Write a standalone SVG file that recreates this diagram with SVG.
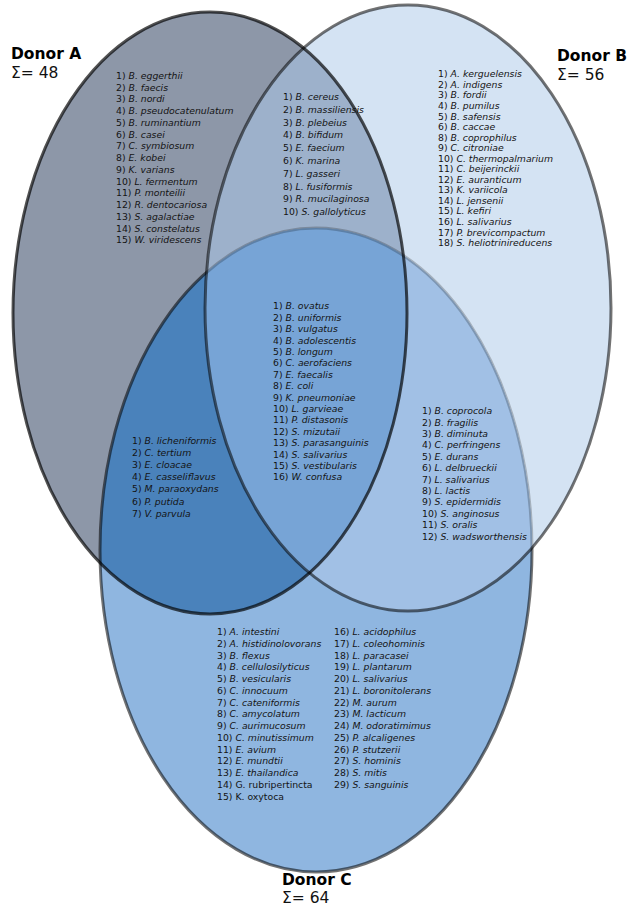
<svg xmlns="http://www.w3.org/2000/svg" xmlns:xlink="http://www.w3.org/1999/xlink" width="627" height="907" viewBox="0 0 627 907">
<style>
text{font-family:"DejaVu Sans","Liberation Sans",sans-serif;fill:#141414}
.l{font-size:9.3px}
.i{font-style:italic}
.t{font-size:15.5px;font-weight:bold;fill:#000}
.s{font-size:15.5px;fill:#111}
.o{fill:none;stroke:#000;stroke-width:3}
</style>
<defs>
<ellipse id="eA" cx="210" cy="313" rx="197" ry="301"/>
<ellipse id="eB" cx="408" cy="308" rx="203" ry="303"/>
<ellipse id="eC" cx="316" cy="550" rx="216" ry="322"/>
<clipPath id="cA"><use xlink:href="#eA"/></clipPath>
<clipPath id="cB"><use xlink:href="#eB"/></clipPath>
<clipPath id="nB"><path clip-rule="evenodd" d="M0,0H627V907H0Z M205,308a203,303 0 1,0 406,0a203,303 0 1,0 -406,0Z"/></clipPath>
</defs>
<rect width="627" height="907" fill="#fff"/>
<g id="fills">
<use xlink:href="#eA" fill="#8d97a8"/>
<use xlink:href="#eB" fill="#d4e3f3"/>
<use xlink:href="#eC" fill="#8fb6e0"/>
<g clip-path="url(#cA)"><use xlink:href="#eB" fill="#9db1cb"/></g>
<g clip-path="url(#cA)"><use xlink:href="#eC" fill="#4a82bb"/></g>
<g clip-path="url(#cB)"><use xlink:href="#eC" fill="#a1c0e5"/></g>
<g clip-path="url(#cA)"><g clip-path="url(#cB)"><use xlink:href="#eC" fill="#77a4d6"/></g></g>
</g>
<g id="outlines">
<g clip-path="url(#nB)"><use xlink:href="#eC" class="o" stroke-opacity="0.55"/></g>
<g clip-path="url(#cB)"><use xlink:href="#eC" class="o" stroke-opacity="0.22"/></g>
<use xlink:href="#eA" class="o" stroke-opacity="0.68"/>
<use xlink:href="#eB" class="o" stroke-opacity="0.55"/>
</g>
<g id="donorA">
<text class="t" x="11" y="59">Donor A</text>
<text class="s" x="11" y="78">Σ= 48</text>
</g>
<g id="donorB">
<text class="t" x="557" y="61">Donor B</text>
<text class="s" x="557" y="80">Σ= 56</text>
</g>
<g id="donorC">
<text class="t" x="282" y="885">Donor C</text>
<text class="s" x="282" y="903">Σ= 64</text>
</g>
<g id="listA" class="l">
<text class="l" x="116" y="79">1) <tspan class="i">B. eggerthii</tspan></text>
<text class="l" x="116" y="90.74">2) <tspan class="i">B. faecis</tspan></text>
<text class="l" x="116" y="102.48">3) <tspan class="i">B. nordi</tspan></text>
<text class="l" x="116" y="114.22">4) <tspan class="i">B. pseudocatenulatum</tspan></text>
<text class="l" x="116" y="125.96">5) <tspan class="i">B. ruminantium</tspan></text>
<text class="l" x="116" y="137.7">6) <tspan class="i">B. casei</tspan></text>
<text class="l" x="116" y="149.44">7) <tspan class="i">C. symbiosum</tspan></text>
<text class="l" x="116" y="161.18">8) <tspan class="i">E. kobei</tspan></text>
<text class="l" x="116" y="172.92">9) <tspan class="i">K. varians</tspan></text>
<text class="l" x="116" y="184.66">10) <tspan class="i">L. fermentum</tspan></text>
<text class="l" x="116" y="196.4">11) <tspan class="i">P. monteilii</tspan></text>
<text class="l" x="116" y="208.14">12) <tspan class="i">R. dentocariosa</tspan></text>
<text class="l" x="116" y="219.88">13) <tspan class="i">S. agalactiae</tspan></text>
<text class="l" x="116" y="231.62">14) <tspan class="i">S. constelatus</tspan></text>
<text class="l" x="116" y="243.36">15) <tspan class="i">W. viridescens</tspan></text>
</g>
<g id="listAB">
<text class="l" x="283" y="100">1) <tspan class="i">B. cereus</tspan></text>
<text class="l" x="283" y="112.8">2) <tspan class="i">B. massiliensis</tspan></text>
<text class="l" x="283" y="125.6">3) <tspan class="i">B. plebeius</tspan></text>
<text class="l" x="283" y="138.4">4) <tspan class="i">B. bifidum</tspan></text>
<text class="l" x="283" y="151.2">5) <tspan class="i">E. faecium</tspan></text>
<text class="l" x="283" y="164">6) <tspan class="i">K. marina</tspan></text>
<text class="l" x="283" y="176.8">7) <tspan class="i">L. gasseri</tspan></text>
<text class="l" x="283" y="189.6">8) <tspan class="i">L. fusiformis</tspan></text>
<text class="l" x="283" y="202.4">9) <tspan class="i">R. mucilaginosa</tspan></text>
<text class="l" x="283" y="215.2">10) <tspan class="i">S. gallolyticus</tspan></text>
</g>
<g id="listB">
<text class="l" x="438" y="77.3">1) <tspan class="i">A. kerguelensis</tspan></text>
<text class="l" x="438" y="87.85">2) <tspan class="i">A. indigens</tspan></text>
<text class="l" x="438" y="98.4">3) <tspan class="i">B. fordii</tspan></text>
<text class="l" x="438" y="108.95">4) <tspan class="i">B. pumilus</tspan></text>
<text class="l" x="438" y="119.5">5) <tspan class="i">B. safensis</tspan></text>
<text class="l" x="438" y="130.05">6) <tspan class="i">B. caccae</tspan></text>
<text class="l" x="438" y="140.6">8) <tspan class="i">B. coprophilus</tspan></text>
<text class="l" x="438" y="151.15">9) <tspan class="i">C. citroniae</tspan></text>
<text class="l" x="438" y="161.7">10) <tspan class="i">C. thermopalmarium</tspan></text>
<text class="l" x="438" y="172.25">11) <tspan class="i">C. beijerinckii</tspan></text>
<text class="l" x="438" y="182.8">12) <tspan class="i">E. auranticum</tspan></text>
<text class="l" x="438" y="193.35">13) <tspan class="i">K. variicola</tspan></text>
<text class="l" x="438" y="203.9">14) <tspan class="i">L. jensenii</tspan></text>
<text class="l" x="438" y="214.45">15) <tspan class="i">L. kefiri</tspan></text>
<text class="l" x="438" y="225">16) <tspan class="i">L. salivarius</tspan></text>
<text class="l" x="438" y="235.55">17) <tspan class="i">P. brevicompactum</tspan></text>
<text class="l" x="438" y="246.1">18) <tspan class="i">S. heliotrinireducens</tspan></text>
</g>
<g id="listABC">
<text class="l" x="273" y="309.3">1) <tspan class="i">B. ovatus</tspan></text>
<text class="l" x="273" y="320.7">2) <tspan class="i">B. uniformis</tspan></text>
<text class="l" x="273" y="332.1">3) <tspan class="i">B. vulgatus</tspan></text>
<text class="l" x="273" y="343.5">4) <tspan class="i">B. adolescentis</tspan></text>
<text class="l" x="273" y="354.9">5) <tspan class="i">B. longum</tspan></text>
<text class="l" x="273" y="366.3">6) <tspan class="i">C. aerofaciens</tspan></text>
<text class="l" x="273" y="377.7">7) <tspan class="i">E. faecalis</tspan></text>
<text class="l" x="273" y="389.1">8) <tspan class="i">E. coli</tspan></text>
<text class="l" x="273" y="400.5">9) <tspan class="i">K. pneumoniae</tspan></text>
<text class="l" x="273" y="411.9">10) <tspan class="i">L. garvieae</tspan></text>
<text class="l" x="273" y="423.3">11) <tspan class="i">P. distasonis</tspan></text>
<text class="l" x="273" y="434.7">12) <tspan class="i">S. mizutaii</tspan></text>
<text class="l" x="273" y="446.1">13) <tspan class="i">S. parasanguinis</tspan></text>
<text class="l" x="273" y="457.5">14) <tspan class="i">S. salivarius</tspan></text>
<text class="l" x="273" y="468.9">15) <tspan class="i">S. vestibularis</tspan></text>
<text class="l" x="273" y="480.3">16) <tspan class="i">W. confusa</tspan></text>
</g>
<g id="listAC">
<text class="l" x="132" y="443.6">1) <tspan class="i">B. licheniformis</tspan></text>
<text class="l" x="132" y="455.8">2) <tspan class="i">C. tertium</tspan></text>
<text class="l" x="132" y="468">3) <tspan class="i">E. cloacae</tspan></text>
<text class="l" x="132" y="480.2">4) <tspan class="i">E. casseliflavus</tspan></text>
<text class="l" x="132" y="492.4">5) <tspan class="i">M. paraoxydans</tspan></text>
<text class="l" x="132" y="504.6">6) <tspan class="i">P. putida</tspan></text>
<text class="l" x="132" y="516.8">7) <tspan class="i">V. parvula</tspan></text>
</g>
<g id="listBC">
<text class="l" x="422" y="414.2">1) <tspan class="i">B. coprocola</tspan></text>
<text class="l" x="422" y="425.6">2) <tspan class="i">B. fragilis</tspan></text>
<text class="l" x="422" y="437">3) <tspan class="i">B. diminuta</tspan></text>
<text class="l" x="422" y="448.4">4) <tspan class="i">C. perfringens</tspan></text>
<text class="l" x="422" y="459.8">5) <tspan class="i">E. durans</tspan></text>
<text class="l" x="422" y="471.2">6) <tspan class="i">L. delbrueckii</tspan></text>
<text class="l" x="422" y="482.6">7) <tspan class="i">L. salivarius</tspan></text>
<text class="l" x="422" y="494">8) <tspan class="i">L. lactis</tspan></text>
<text class="l" x="422" y="505.4">9) <tspan class="i">S. epidermidis</tspan></text>
<text class="l" x="422" y="516.8">10) <tspan class="i">S. anginosus</tspan></text>
<text class="l" x="422" y="528.2">11) <tspan class="i">S. oralis</tspan></text>
<text class="l" x="422" y="539.6">12) <tspan class="i">S. wadsworthensis</tspan></text>
</g>
<g id="listC">
<text class="l" x="217" y="635">1) <tspan class="i">A. intestini</tspan></text>
<text class="l" x="217" y="646.75">2) <tspan class="i">A. histidinolovorans</tspan></text>
<text class="l" x="217" y="658.5">3) <tspan class="i">B. flexus</tspan></text>
<text class="l" x="217" y="670.25">4) <tspan class="i">B. cellulosilyticus</tspan></text>
<text class="l" x="217" y="682">5) <tspan class="i">B. vesicularis</tspan></text>
<text class="l" x="217" y="693.75">6) <tspan class="i">C. innocuum</tspan></text>
<text class="l" x="217" y="705.5">7) <tspan class="i">C. cateniformis</tspan></text>
<text class="l" x="217" y="717.25">8) <tspan class="i">C. amycolatum</tspan></text>
<text class="l" x="217" y="729">9) <tspan class="i">C. aurimucosum</tspan></text>
<text class="l" x="217" y="740.75">10) <tspan class="i">C. minutissimum</tspan></text>
<text class="l" x="217" y="752.5">11) <tspan class="i">E. avium</tspan></text>
<text class="l" x="217" y="764.25">12) <tspan class="i">E. mundtii</tspan></text>
<text class="l" x="217" y="776">13) <tspan class="i">E. thailandica</tspan></text>
<text class="l" x="217" y="787.75">14) G. rubripertincta</text>
<text class="l" x="217" y="799.5">15) K. oxytoca</text>
<text class="l" x="334" y="635">16) <tspan class="i">L. acidophilus</tspan></text>
<text class="l" x="334" y="646.75">17) <tspan class="i">L. coleohominis</tspan></text>
<text class="l" x="334" y="658.5">18) <tspan class="i">L. paracasei</tspan></text>
<text class="l" x="334" y="670.25">19) <tspan class="i">L. plantarum</tspan></text>
<text class="l" x="334" y="682">20) <tspan class="i">L. salivarius</tspan></text>
<text class="l" x="334" y="693.75">21) <tspan class="i">L. boronitolerans</tspan></text>
<text class="l" x="334" y="705.5">22) <tspan class="i">M. aurum</tspan></text>
<text class="l" x="334" y="717.25">23) <tspan class="i">M. lacticum</tspan></text>
<text class="l" x="334" y="729">24) <tspan class="i">M. odoratimimus</tspan></text>
<text class="l" x="334" y="740.75">25) <tspan class="i">P. alcaligenes</tspan></text>
<text class="l" x="334" y="752.5">26) <tspan class="i">P. stutzerii</tspan></text>
<text class="l" x="334" y="764.25">27) <tspan class="i">S. hominis</tspan></text>
<text class="l" x="334" y="776">28) <tspan class="i">S. mitis</tspan></text>
<text class="l" x="334" y="787.75">29) <tspan class="i">S. sanguinis</tspan></text>
</g>
</svg>
